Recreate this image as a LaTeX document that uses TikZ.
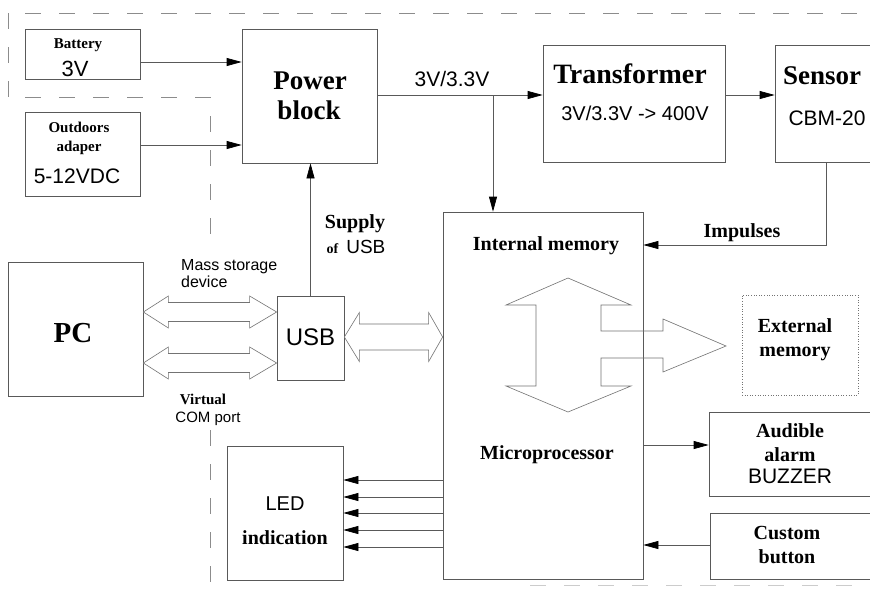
\documentclass[tikz,border=0pt]{standalone}
\usepackage{fontspec}
\setmainfont{Liberation Serif}
\newfontfamily\arfont{Liberation Sans}
\usetikzlibrary{arrows.meta,calc}
\begin{document}
\begin{tikzpicture}[x=1pt,y=-1pt,
  box/.style={draw=black!65, line width=0.7pt, rectangle, inner sep=0pt},
  dotbox/.style={draw=black!55, line width=0.6pt, dotted, rectangle, inner sep=0pt},
  conn/.style={draw=black!65, line width=0.7pt, -{Triangle[length=15pt,width=8pt,color=black]}},
  fatarr/.style={draw=black!55, line width=0.6pt, fill=white, line join=miter},
  dsh/.style={draw=black!45, line width=0.7pt, dash pattern=on 16pt off 18pt},
  serb/.style={font=\bfseries\fontsize{#1}{#1}\selectfont, inner sep=0pt, anchor=base},
  sans/.style={font=\arfont\fontsize{#1}{#1}\selectfont, inner sep=0pt, anchor=base}]
\useasboundingbox (0,0) rectangle (870,592);
\clip (0,0) rectangle (870,592);
\fill[white] (0,0) rectangle (870,592);

% dashed frame lines
\draw[dsh] (25,13) -- (870,13);
\draw[dsh] (8,13) -- (8,97);
\draw[dsh] (25,97) -- (210,97) -- (210,248);
\draw[dsh] (210,430) -- (210,582);
\draw[dsh, draw=black!20] (530,585) -- (870,585);

% boxes
\node[box, minimum width=115, minimum height=50] (battery) at (82.5,54) {};
\node[box, minimum width=115, minimum height=84] (adapter) at (82.5,154) {};
\node[box, minimum width=135, minimum height=134] (power) at (309.5,96) {};
\node[box, minimum width=182, minimum height=117] (transformer) at (634,103.5) {};
\node[box, minimum width=110, minimum height=117] (sensor) at (830,103.5) {};
\node[box, minimum width=135, minimum height=134] (pc) at (75.5,329) {};
\node[box, minimum width=67, minimum height=84] (usb) at (310.5,338) {};
\node[box, minimum width=200, minimum height=367] (micro) at (543,395.5) {};
\node[dotbox, minimum width=116, minimum height=100] (extmem) at (800,345) {};
\node[box, minimum width=163, minimum height=84] (audible) at (790.5,454) {};
\node[box, minimum width=162, minimum height=66] (custom) at (791,546) {};
\node[box, minimum width=116, minimum height=134] (led) at (285,513) {};

% texts
\node[serb=15] (tbat) at (78,48) {Battery};
\node[sans=22] (tbatv) at (75,76) {3V};
\node[serb=15] (tout) at (79,132) {Outdoors};
\node[serb=15] (tada) at (79,151) {adaper};
\node[sans=21] (tvdc) at (77,183) {5-12VDC};
\node[serb=27] (tpow) at (310,89) {Power};
\node[serb=27] (tblk) at (309,119) {block};
\node[serb=28] (ttra) at (630,83) {Transformer};
\node[sans=20] (ttrv) at (635,120) {3V/3.3V -> 400V};
\node[serb=27] (tsen) at (822,84) {Sensor};
\node[sans=21] (tcbm) at (827,125) {CBM-20};
\node[sans=21] (tvolt) at (452,86) {3V/3.3V};
\node[serb=20] (tint) at (546,250) {Internal memory};
\node[serb=20] (timp) at (742,237) {Impulses};
\node[serb=29] (tpc) at (73,342) {PC};
\node[sans=16, anchor=base west] (tmass) at (181,270) {Mass storage};
\node[sans=16, anchor=base west] (tdev) at (181,287) {device};
\node[serb=15] (tvir) at (203,404) {Virtual};
\node[sans=15] (tcom) at (208,422) {COM port};
\node[serb=20] (tsup) at (355,228) {Supply};
\node[anchor=base, inner sep=0pt] (tofusb) at (356,253) {{\bfseries\fontsize{14}{14}\selectfont of}\hspace{8pt}{\arfont\fontsize{19}{19}\selectfont USB}};
\node[sans=24] (tusb) at (310.5,345) {USB};
\node[serb=20] (text1) at (795,332) {External};
\node[serb=20] (text2) at (795,356) {memory};
\node[serb=20] (tmic) at (547,459) {Microprocessor};
\node[serb=20] (taud) at (790,437) {Audible};
\node[serb=20] (tala) at (790,461) {alarm};
\node[sans=21] (tbuz) at (790,483) {BUZZER};
\node[serb=20] (tcus) at (787,539) {Custom};
\node[serb=20] (tbut) at (787,563) {button};
\node[sans=20] (tled) at (285,510) {LED};
\node[serb=20] (tind) at (285,544) {indication};

% connectors
\draw[conn] (battery.east |- 0,62) -- (power.west |- 0,62);
\draw[conn] (adapter.east |- 0,145) -- (power.west |- 0,145);
\draw[conn] (power.east |- 0,95) -- (transformer.west |- 0,95);
\draw[conn] (transformer.east |- 0,95) -- (sensor.west |- 0,95);
\coordinate (j) at (493,95);
\draw[conn] (j) -- (j |- micro.north);
\coordinate (imp) at (826,245);
\draw[conn] (imp |- sensor.south) -- (imp) -- (micro.east |- imp);
\draw[conn] (usb.north) -- (usb.north |- power.south);
\draw[conn] (micro.east |- 0,445) -- (audible.west |- 0,445);
\draw[conn] (custom.west |- 0,545) -- (micro.east |- 0,545);
\foreach \yy in {480,497,513,530,547}
  \draw[conn] (micro.west |- 0,\yy) -- (led.east |- 0,\yy);

% fat double arrows PC <-> USB
\foreach \cy in {312,363} {
  \coordinate (a) at (pc.east |- 0,\cy);
  \coordinate (b) at (usb.west |- 0,\cy);
  \draw[fatarr] (a) -- ++(25,-16) -- ++(0,6.5) -- ($(b)+(-27,-9.5)$) -- ++(0,-6.5) -- (b)
     -- ++(-27,16) -- ++(0,-6.5) -- ($(a)+(25,9.5)$) -- ++(0,6.5) -- cycle;
}
% fat double arrow USB <-> micro
\coordinate (a2) at (usb.east |- 0,337);
\coordinate (b2) at (micro.west |- 0,337);
\draw[fatarr] (a2) -- ++(15,-24.5) -- ++(0,11.5) -- ($(b2)+(-14,-13)$) -- ++(0,-11.5) -- (b2)
   -- ++(-14,24.5) -- ++(0,-11.5) -- ($(a2)+(15,13)$) -- ++(0,11.5) -- cycle;

% bus arrow inside microprocessor
\draw[draw=black!55, line width=0.6pt, line join=miter]
  (568,278) -- (631,305) -- (601,305) -- (601,331) -- (663,331) -- (663,319) -- (726,346)
  -- (663,372) -- (663,358) -- (601,358) -- (601,386) -- (631,386) -- (568,412)
  -- (506,386) -- (536,386) -- (536,305) -- (506,305) -- cycle;
\end{tikzpicture}
\end{document}
